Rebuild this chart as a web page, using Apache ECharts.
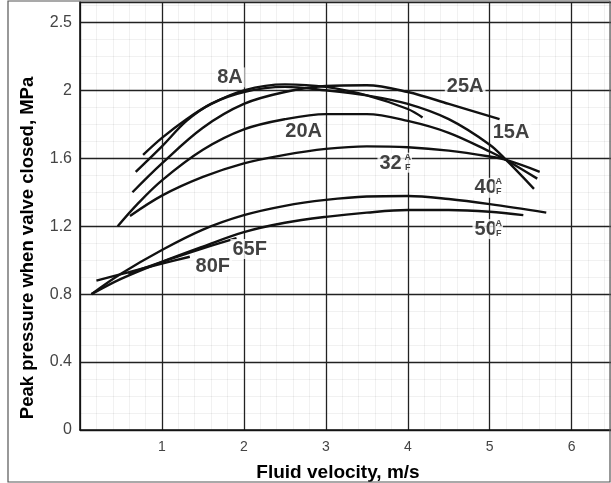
<!DOCTYPE html>
<html><head><meta charset="utf-8">
<script src="https://cdn.jsdelivr.net/npm/echarts@6/dist/echarts.min.js"></script>
<style>html,body{margin:0;padding:0;background:#fff}#c{width:611px;height:483px}</style>
</head><body><div id="c"></div>
<script>
// ---- data ----
const xTickValues = [1, 2, 3, 4, 5, 6];
const yTickValues = [0, 0.4, 0.8, 1.2, 1.6, 2.0, 2.4];
const yTickLabels = ['0', '0.4', '0.8', '1.2', '1.6', '2', '2.5'];

const curve8A  = [[0.77,1.62],[1.0,1.72],[1.3,1.83],[1.6,1.92],[2.0,2.0],[2.5,2.035],[3.0,2.02],[3.5,1.97],[4.0,1.89],[4.18,1.84]];
const curve15A = [[0.68,1.52],[1.0,1.67],[1.3,1.82],[1.6,1.92],[2.0,1.99],[2.5,2.02],[3.0,2.0],[3.5,1.97],[4.0,1.92],[4.5,1.83],[5.0,1.68],[5.2,1.59],[5.54,1.42]];
const curve25A = [[0.64,1.40],[1.0,1.57],[1.5,1.78],[2.0,1.92],[2.5,1.99],[3.0,2.025],[3.5,2.03],[4.0,1.99],[4.5,1.92],[5.12,1.83]];
const curve20A = [[0.46,1.20],[0.7,1.33],[1.0,1.47],[1.5,1.65],[2.0,1.77],[2.5,1.83],[3.0,1.86],[3.5,1.86],[4.0,1.82],[4.5,1.75],[5.0,1.64],[5.2,1.59],[5.58,1.48]];
const curve32A = [[0.61,1.26],[1.0,1.38],[1.5,1.49],[2.0,1.57],[2.5,1.62],[3.0,1.655],[3.5,1.67],[4.0,1.665],[4.5,1.645],[5.0,1.61],[5.2,1.59],[5.61,1.52]];
const curve40A = [[0.14,0.80],[0.5,0.92],[1.0,1.06],[1.5,1.18],[2.0,1.265],[2.5,1.32],[3.0,1.355],[3.5,1.375],[4.0,1.378],[4.5,1.36],[5.0,1.33],[5.69,1.28]];
const curve50A = [[0.14,0.80],[0.5,0.89],[1.0,0.99],[1.5,1.08],[2.0,1.165],[2.5,1.22],[3.0,1.255],[3.5,1.28],[4.0,1.295],[4.5,1.295],[5.0,1.285],[5.41,1.265]];
const curve65F = [[0.59,0.92],[1.0,0.99],[1.5,1.07],[1.91,1.13]];
const curve80F = [[0.2,0.88],[0.6,0.93],[1.0,0.98],[1.34,1.02]];

const labelNames = ['8A', '25A', '15A', '20A', '32', '40', '50', '65F', '80F'];
const labelX     = [1.83, 4.70, 5.26, 2.73, 3.79, 4.95, 4.95, 2.07, 1.62];
const labelY     = [2.076, 2.02, 1.75, 1.76, 1.57, 1.426, 1.183, 1.065, 0.965];
const subNames = ['A\nF', 'A\nF', 'A\nF'];
const subX     = [4.00, 5.11, 5.11];
const subY     = [1.574, 1.436, 1.188];

// ---- chart ----
const FONT = "'Liberation Sans', Arial, sans-serif";
const chart = echarts.init(document.getElementById('c'), null, {renderer: 'canvas'});
const curves = [['8A', curve8A], ['15A', curve15A], ['25A', curve25A], ['20A', curve20A], ['32A', curve32A],
                ['40A', curve40A], ['50A', curve50A], ['65F', curve65F], ['80F', curve80F]];

const series = curves.map(([n, d]) => ({
  name: n, type: 'line', data: d, showSymbol: false, smooth: 0.35, silent: true,
  lineStyle: {color: '#111', width: 2.4}, z: 3
}));
series.push({
  type: 'scatter', symbolSize: 0, silent: true, z: 5,
  data: labelNames.map((n, i) => ({name: n, value: [labelX[i], labelY[i]]})),
  label: {show: true, position: 'inside', formatter: p => p.name, color: '#111',
    fontFamily: FONT, fontWeight: 'bold', fontSize: 20, backgroundColor: '#fff', padding: [0, 2, 0, 2]}
});
series.push({
  type: 'scatter', symbolSize: 0, silent: true, z: 6,
  data: subNames.map((n, i) => ({name: n, value: [subX[i], subY[i]]})),
  label: {show: true, position: 'inside', formatter: p => p.name, color: '#111',
    fontFamily: FONT, fontWeight: 'bold', fontSize: 9, lineHeight: 10, backgroundColor: '#fff', padding: [0, 1, 0, 1]}
});

chart.setOption({
  animation: false,
  backgroundColor: '#fff',
  grid: {left: 80, right: 0, top: 2, bottom: 53, containLabel: false, outerBoundsMode: 'none'},
  xAxis: {
    type: 'value', min: 0, max: 6.48, interval: 1,
    name: 'Fluid velocity, m/s', nameLocation: 'middle', nameGap: 33,
    nameTextStyle: {fontFamily: FONT, fontWeight: 'bold', fontSize: 19, color: '#000', padding: [0, 15, 0, 0]},
    axisLine: {show: true, lineStyle: {color: '#111', width: 1.6}},
    axisTick: {show: false},
    axisLabel: {color: '#444', fontFamily: FONT, fontSize: 14, margin: 10,
      formatter: v => xTickValues.some(t => Math.abs(t - v) < 1e-6) ? String(v) : ''},
    splitLine: {show: true, lineStyle: {color: '#222', width: 1.3}},
    minorTick: {show: false, splitNumber: 5},
    minorSplitLine: {show: true, lineStyle: {color: 'rgba(0,0,0,0.07)', width: 0.8}}
  },
  yAxis: {
    type: 'value', min: 0, max: 2.52, interval: 0.4,
    axisLine: {show: true, lineStyle: {color: '#111', width: 1.6}},
    axisTick: {show: false},
    axisLabel: {color: '#444', fontFamily: FONT, fontSize: 16, margin: 8,
      formatter: v => { const i = yTickValues.findIndex(t => Math.abs(t - v) < 1e-6); return i >= 0 ? yTickLabels[i] : ''; }},
    splitLine: {show: true, lineStyle: {color: '#222', width: 1.3}},
    minorTick: {show: false, splitNumber: 4},
    minorSplitLine: {show: true, lineStyle: {color: 'rgba(0,0,0,0.07)', width: 0.8}}
  },
  graphic: [
    {type: 'rect', shape: {x: 8, y: 1, width: 602, height: 481}, style: {fill: 'none', stroke: '#555', lineWidth: 1.2}, z: 10, silent: true},
    {type: 'text', x: 28, y: 248, rotation: Math.PI / 2, silent: true, z: 10,
      style: {text: 'Peak pressure when valve closed, MPa', fontFamily: FONT, fontWeight: 'bold', fontSize: 18.5,
        fill: '#000', align: 'center', verticalAlign: 'middle'}}
  ],
  series: series
});
</script>
</body></html>
